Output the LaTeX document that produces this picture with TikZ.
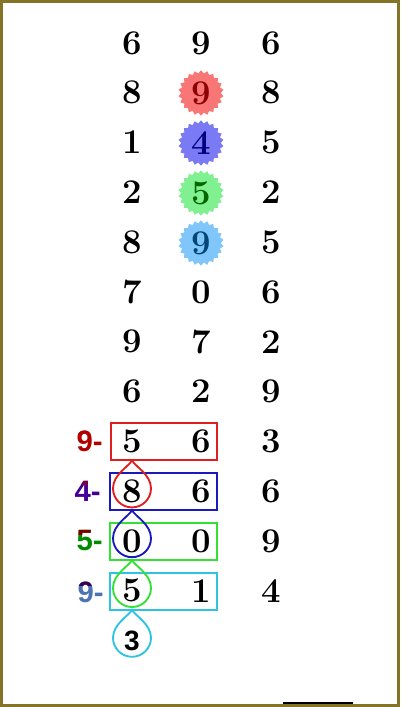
\documentclass[tikz,border=0pt]{standalone}
\usepackage{fontspec}
\newfontfamily\labelfont{Liberation Sans}
\usepackage{tikz}
\usetikzlibrary{shapes.geometric,calc}
\definecolor{frameolive}{RGB}{133,115,40}
\definecolor{burstred}{RGB}{248,118,118}
\definecolor{burstblue}{RGB}{122,122,245}
\definecolor{burstgreen}{RGB}{128,240,144}
\definecolor{burstsky}{RGB}{128,198,250}
\definecolor{boxred}{RGB}{224,30,30}
\definecolor{boxblue}{RGB}{25,25,190}
\definecolor{boxgreen}{RGB}{50,225,50}
\definecolor{boxcyan}{RGB}{45,195,225}
\tikzset{
    digit/.style={font=\fontsize{26}{30}\selectfont\bfseries,inner sep=0pt},
    burst/.style={star,star points=22,star point ratio=1.15,minimum size=34pt,inner sep=0pt,draw=none},
    box/.style={line width=1.5pt},
    drop/.style={line width=1.4pt},
    minus/.style={font=\labelfont\fontsize{22}{26}\selectfont\bfseries,anchor=east,inner sep=0pt}
}
% teardrop hanging from a tip point
\newcommand{\teardrop}[2]{%
    \draw[drop,#1] (#2) .. controls +(3,6) and +(0,-14) .. ++(19,28) arc (0:180:19)
        .. controls +(0,-14) and +(-3,6) .. (#2) -- cycle;}
% label with a top and a bottom colour
\newcommand{\twotone}[5]{%
    \node[minus,text=#5] (#1) at (#2) {#3};
    \begin{scope}
        \clip ($(#1.north west)+(-2,-2)$) rectangle ($(#1.east)+(2,-7)$);
        \node[minus,text=#4] at (#2) {#3};
    \end{scope}}
\begin{document}
\begin{tikzpicture}[x=0.75pt,y=-0.75pt]
    \useasboundingbox (0,0) rectangle (400,707);
    % bursts behind the middle column
    \node[burst,fill=burstred] (s2) at (201,93) {};
    \node[burst,fill=burstblue] (s3) at (201,143) {};
    \node[burst,fill=burstgreen] (s4) at (201,193) {};
    \node[burst,fill=burstsky] (s5) at (201,243) {};
    % the grid
    \foreach \a/\b/\c [count=\i] in {6/9/6,8/ /8,1/ /5,2/ /2,8/ /5,7/0/6,9/7/2,6/2/9,5/6/3,8/6/6,0/0/9,5/1/4}
    {
        \node[digit] (a\i) at (132,{43+49.8*(\i-1)}) {\a};
        \node[digit] (b\i) at (201,{43+49.8*(\i-1)}) {\b};
        \node[digit] (c\i) at (271,{43+49.8*(\i-1)}) {\c};
    }
    \node[digit,text=red!55!black] at (s2) {9};
    \node[digit,text=blue!50!black] at (s3) {4};
    \node[digit,text=green!40!black] at (s4) {5};
    \node[digit,text=blue!40!cyan!45!black] at (s5) {9};
    % boxes
    \draw[box,boxred] ($(a9)+(-21,-18)$) rectangle ($(b9)+(16,19)$);
    \draw[box,boxblue] ($(a10)+(-22,-18)$) rectangle ($(b10)+(16,19)$);
    \draw[box,boxgreen] ($(a11)+(-22,-18)$) rectangle ($(b11)+(16,19)$);
    \draw[box,boxcyan] ($(a12)+(-22,-18)$) rectangle ($(b12)+(16,19)$);
    \coordinate (t9) at ($(a9)+(0,19)$);
    \coordinate (t10) at ($(a10)+(0,19)$);
    \coordinate (t11) at ($(a11)+(0,19)$);
    \coordinate (t12) at ($(a12)+(0,19)$);
    \teardrop{boxred}{t9}
    \teardrop{boxblue}{t10}
    \teardrop{boxgreen}{t11}
    \teardrop{boxcyan}{t12}
    \node[font=\labelfont\fontsize{21}{25}\selectfont\bfseries,inner sep=0pt] (last) at (132,641) {3};
    % left labels
    \twotone{m9}{103,441}{9-}{red!70!black}{red!70!black}
    \twotone{m10}{101,491}{4-}{violet!70!red!75!black}{violet!60!blue!85!black}
    \twotone{m11}{103,541}{5-}{red!50!black}{green!55!black}
    \twotone{m12}{104,592}{9-}{red!40!blue!55!black}{cyan!45!blue!70!gray}
    % frame and bar
    \fill[black] (283,701.5) rectangle (353,705.5);
    \draw[frameolive,line width=2.25pt] (1.5,1.5) rectangle (398.5,705.5);
\end{tikzpicture}
\end{document}
